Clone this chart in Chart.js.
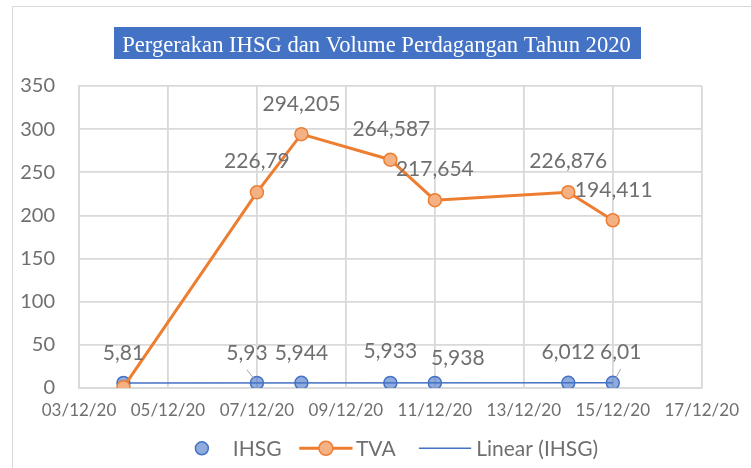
<!DOCTYPE html>
<html>
<head>
<meta charset="utf-8">
<script src="https://cdn.jsdelivr.net/npm/chart.js@4.4.0/dist/chart.umd.min.js"></script>
<style>
  body { margin: 0; background: #fff; }
  #wrap { position: relative; width: 751px; height: 468px; overflow: hidden; }
  #frame { position: absolute; left: 12px; top: 6px; width: 800px; height: 500px; border: 1.5px solid #d9d9d9; }
  canvas { position: absolute; left: 0; top: 0; }
</style>
</head>
<body>
<div id="wrap">
  <div id="frame"></div>
  <canvas id="myChart" width="751" height="468"></canvas>
</div>
<script>
// data
const tanggal = ["04/12/20", "07/12/20", "08/12/20", "10/12/20", "11/12/20", "14/12/20", "15/12/20"];
const ihsg = [5.81, 5.93, 5.944, 5.933, 5.938, 6.012, 6.01];
const tva = [1, 226.79, 294.205, 264.587, 217.654, 226.876, 194.411];
const trendTanggal = ["04/12/20", "15/12/20"];
const trendIHSG = [5.84, 6.02];
const xTicks = ["03/12/20", "05/12/20", "07/12/20", "09/12/20", "11/12/20", "13/12/20", "15/12/20", "17/12/20"];
const yTicks = [0, 50, 100, 150, 200, 250, 300, 350];

const hari = (s) => parseInt(s.slice(0, 2), 10);
const toPoints = (dates, vals) => dates.map((d, i) => ({ x: hari(d), y: vals[i] }));
const angka = (v) => String(v).replace(".", ",");

const abu = "#6f6f6f";
const grid = "#d9d9d9";
const font = "Lato";

// label data: geser teks relatif ke titik
const labelPlugin = {
  id: "labelData",
  afterDatasetsDraw(chart) {
    const ctx = chart.ctx;
    ctx.save();
    ctx.font = `21px ${font}`;
    ctx.fillStyle = abu;
    ctx.textAlign = "center";
    ctx.textBaseline = "alphabetic";
    chart.data.datasets.forEach((ds, di) => {
      if (!ds.labelOffsets) return;
      const meta = chart.getDatasetMeta(di);
      meta.data.forEach((pt, i) => {
        const off = ds.labelOffsets[i];
        if (!off) return;
        const cx = pt.x + off[0];
        const cy = pt.y + off[1];
        ctx.fillText(angka(ds.data[i].y), cx, cy + 7.5);
        if (ds.leaders && ds.leaders[i]) {
          const sgn = off[0] < 0 ? -1 : 1;
          ctx.strokeStyle = "#a6a6a6";
          ctx.lineWidth = 1;
          ctx.beginPath();
          ctx.moveTo(cx, cy + 17);
          ctx.lineTo(pt.x + sgn * 2, pt.y - 3);
          ctx.stroke();
        }
      });
    });
    ctx.restore();
  }
};

const titlePlugin = {
  id: "judul",
  afterDraw(chart) {
    const ctx = chart.ctx;
    const teks = "Pergerakan IHSG dan Volume Perdagangan Tahun 2020";
    ctx.save();
    ctx.fillStyle = "#4472C4";
    ctx.fillRect(114, 27, 527, 32);
    ctx.fillStyle = "#fff";
    ctx.font = '22px "Liberation Serif"';
    const ukuran = 22 * 509 / ctx.measureText(teks).width;
    ctx.font = `${ukuran.toFixed(2)}px "Liberation Serif"`;
    ctx.textAlign = "center";
    ctx.textBaseline = "alphabetic";
    ctx.fillText(teks, 376.5, 52);
    ctx.restore();
  }
};

const legendPlugin = {
  id: "legendaku",
  afterDraw(chart) {
    const ctx = chart.ctx;
    const ds = chart.data.datasets;
    ctx.save();
    ctx.font = `21px ${font}`;
    ctx.textBaseline = "alphabetic";
    ctx.textAlign = "left";
    const y = 448.3;
    const w1 = ctx.measureText(ds[1].label).width;
    const w2 = ctx.measureText(ds[0].label).width;
    const w3 = ctx.measureText(ds[2].label).width;
    const total = 14 + 24 + w1 + 17.7 + 53.3 + 3.4 + w2 + 23.3 + 52.3 + 5 + w3;
    let x = 396.5 - total / 2;
    // IHSG
    ctx.beginPath();
    ctx.arc(x + 7, y, 6.5, 0, Math.PI * 2);
    ctx.fillStyle = ds[1].pointBackgroundColor;
    ctx.fill();
    ctx.lineWidth = 1.5;
    ctx.strokeStyle = ds[1].pointBorderColor;
    ctx.stroke();
    x += 38;
    ctx.fillStyle = abu;
    ctx.fillText(ds[1].label, x, y + 7.5);
    x += w1 + 17.7;
    // TVA
    ctx.beginPath();
    ctx.moveTo(x, y);
    ctx.lineTo(x + 53.3, y);
    ctx.lineWidth = 3;
    ctx.strokeStyle = ds[0].borderColor;
    ctx.stroke();
    ctx.beginPath();
    ctx.arc(x + 26.7, y, 7, 0, Math.PI * 2);
    ctx.fillStyle = ds[0].pointBackgroundColor;
    ctx.fill();
    ctx.lineWidth = 1.5;
    ctx.strokeStyle = ds[0].pointBorderColor;
    ctx.stroke();
    x += 53.3 + 3.4;
    ctx.fillStyle = abu;
    ctx.fillText(ds[0].label, x, y + 7.5);
    x += w2 + 23.3;
    // Linear
    ctx.beginPath();
    ctx.moveTo(x, y);
    ctx.lineTo(x + 52.3, y);
    ctx.lineWidth = 1.5;
    ctx.strokeStyle = ds[2].borderColor;
    ctx.stroke();
    x += 52.3 + 5;
    ctx.fillStyle = abu;
    ctx.fillText(ds[2].label, x, y + 7.5);
    ctx.restore();
  }
};

const myChart = document.getElementById("myChart");
new Chart(myChart, {
  type: "scatter",
  data: {
    datasets: [
      {
        label: "TVA",
        data: toPoints(tanggal, tva),
        showLine: true,
        borderColor: "#ED7D31",
        borderWidth: 3,
        pointRadius: 6.5,
        pointBackgroundColor: "#F4B183",
        pointBorderColor: "#ED7D31",
        pointBorderWidth: 1.5,
        order: 0,
        labelOffsets: [null, [0, -32], [0, -31], [1, -31.5], [0, -31.5], [0, -32], [1, -31]]
      },
      {
        label: "IHSG",
        data: toPoints(tanggal, ihsg),
        showLine: false,
        pointRadius: 6.5,
        pointBackgroundColor: "rgba(68,114,196,0.6)",
        pointBorderColor: "#4472C4",
        pointBorderWidth: 1.5,
        order: 1,
        labelOffsets: [[0, -30], [-10, -30], [0, -30], [0, -32], [23, -25], [0, -31.5], [8, -31]],
        leaders: [false, true, false, false, false, false, true]
      },
      {
        label: "Linear (IHSG)",
        data: toPoints(trendTanggal, trendIHSG),
        showLine: true,
        borderColor: "#4472C4",
        borderWidth: 1.5,
        pointRadius: 0,
        order: 2
      }
    ]
  },
  options: {
    responsive: false,
    animation: false,
    layout: { padding: { left: 0, right: 48, top: 86, bottom: 0 } },
    plugins: { legend: { display: false }, tooltip: { enabled: false } },
    scales: {
      x: {
        type: "linear",
        min: hari(xTicks[0]),
        max: hari(xTicks[xTicks.length - 1]),
        afterBuildTicks: (s) => { s.ticks = xTicks.map((t) => ({ value: hari(t) })); },
        ticks: {
          callback: (v) => xTicks.find((t) => hari(t) === v),
          color: abu,
          font: { family: font, size: 17 },
          padding: 12,
          maxRotation: 0,
          autoSkip: false
        },
        grid: { color: grid, lineWidth: 1.8, drawTicks: false },
        border: { color: grid, width: 1.8 },
        afterFit: (s) => { s.height = 80; }
      },
      y: {
        min: yTicks[0],
        max: yTicks[yTicks.length - 1],
        afterBuildTicks: (s) => { s.ticks = yTicks.map((v) => ({ value: v })); },
        ticks: {
          color: abu,
          font: { family: font, size: 20 },
          padding: 24
        },
        grid: { color: grid, lineWidth: 1.8, drawTicks: false },
        border: { color: grid, width: 1.8 },
        afterFit: (s) => { s.width = 79; }
      }
    }
  },
  plugins: [labelPlugin, titlePlugin, legendPlugin]
});
</script>
</body>
</html>
